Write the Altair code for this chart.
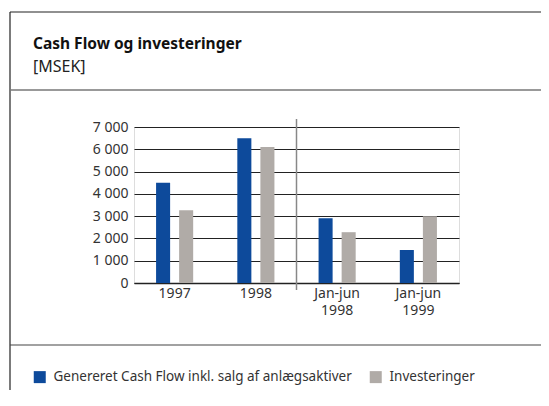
import altair as alt
import pandas as pd

periods = ["1997", "1998", "Jan-jun 1998", "Jan-jun 1999"]
cashflow = [4500, 6500, 2900, 1480]
investeringer = [3270, 6100, 2280, 3000]
series_names = ["Genereret Cash Flow inkl. salg af anlægsaktiver", "Investeringer"]
series_colors = ["#0D4A9B", "#B0ABA7"]
y_ticks = [0, 1000, 2000, 3000, 4000, 5000, 6000, 7000]

rows = []
for p, c, i in zip(periods, cashflow, investeringer):
    rows.append({"periode": p, "serie": series_names[0], "værdi": c})
    rows.append({"periode": p, "serie": series_names[1], "værdi": i})
df = pd.DataFrame(rows)

second_line = pd.DataFrame({
    "periode": [p for p in periods if " " in p],
    "linje2": [p.split(" ")[1] for p in periods if " " in p],
})

FONT = "Noto Sans"
W, H = 325, 156
PAD_L, PAD_T = 126, 119
TOTAL_W, TOTAL_H = 533, 382

x_enc = alt.X("periode:N", sort=periods, title=None,
              scale=alt.Scale(paddingInner=0, paddingOuter=0),
              axis=alt.Axis(labelAngle=0, ticks=False, domain=True, domainColor="#222",
                            domainWidth=1.5, labelPadding=3, labelFontSize=14,
                            labelColor="#333", labelFont=FONT,
                            labelExpr="split(datum.label, ' ')[0]"))

bars = alt.Chart(df).mark_bar().encode(
    x=x_enc,
    xOffset=alt.XOffset("serie:N", sort=series_names,
                        scale=alt.Scale(paddingInner=0.391, paddingOuter=0.957)),
    y=alt.Y("værdi:Q", title=None,
            scale=alt.Scale(domain=[0, 7000], nice=False),
            axis=alt.Axis(values=y_ticks, ticks=False, domain=False, grid=True,
                          gridColor="#222", gridWidth=1, labelPadding=6,
                          labelFontSize=14, labelColor="#333", labelFont=FONT,
                          labelExpr="replace(format(datum.value, ','), ',', ' ')")),
    color=alt.Color("serie:N", sort=series_names,
                    scale=alt.Scale(domain=series_names, range=series_colors),
                    legend=alt.Legend(title=None, orient="none", legendX=-101, legendY=243,
                                      direction="horizontal", symbolType="square",
                                      symbolSize=144, symbolStrokeWidth=0,
                                      labelFontSize=13.5, labelColor="#333", labelFont=FONT,
                                      labelLimit=0, columnPadding=17, labelOffset=7)),
)

years = alt.Chart(second_line).mark_text(baseline="top", fontSize=14, font=FONT,
                                         color="#333").encode(
    x=alt.X("periode:N", sort=periods),
    y=alt.value(H + 21),
    text="linje2:N",
)

one = pd.DataFrame({"a": [0]})

def rule(x, x2=None, y=None, y2=None, color="#333", width=1.0):
    enc = {"x": alt.value(x), "y": alt.value(y)}
    if x2 is not None:
        enc["x2"] = alt.value(x2)
    if y2 is not None:
        enc["y2"] = alt.value(y2)
    return alt.Chart(one).mark_rule(color=color, strokeWidth=width).encode(**enc)

frame = [
    rule(-124, y=-115, y2=TOTAL_H - PAD_T, color="#222", width=1.2),
    rule(-124, x2=TOTAL_W - PAD_L, y=-115, color="#222", width=1.2),
    rule(-124, x2=TOTAL_W - PAD_L, y=-37, color="#777", width=1.5),
    rule(-124, x2=TOTAL_W - PAD_L, y=218, color="#444", width=1.2),
    rule(W / 2, y=-8, y2=H + 7, color="#888", width=1.5),
]

title = alt.Chart(one).mark_text(align="left", baseline="alphabetic", fontSize=15.5,
                                 fontWeight="bold", font=FONT, color="#111").encode(
    x=alt.value(-101), y=alt.value(-78), text=alt.value("Cash Flow og investeringer"))
subtitle = alt.Chart(one).mark_text(align="left", baseline="alphabetic", fontSize=16,
                                    font=FONT, color="#222").encode(
    x=alt.value(-101), y=alt.value(-55), text=alt.value("[MSEK]"))

chart = alt.layer(*frame, bars, years, title, subtitle).properties(
    width=W, height=H,
    padding={"left": PAD_L, "top": PAD_T, "right": TOTAL_W - PAD_L - W,
             "bottom": TOTAL_H - PAD_T - H},
    autosize=alt.AutoSizeParams(type="none"),
).configure_view(stroke=None).configure(background="white")

chart.save("out.html", embed_options={"renderer": "svg", "actions": False})
